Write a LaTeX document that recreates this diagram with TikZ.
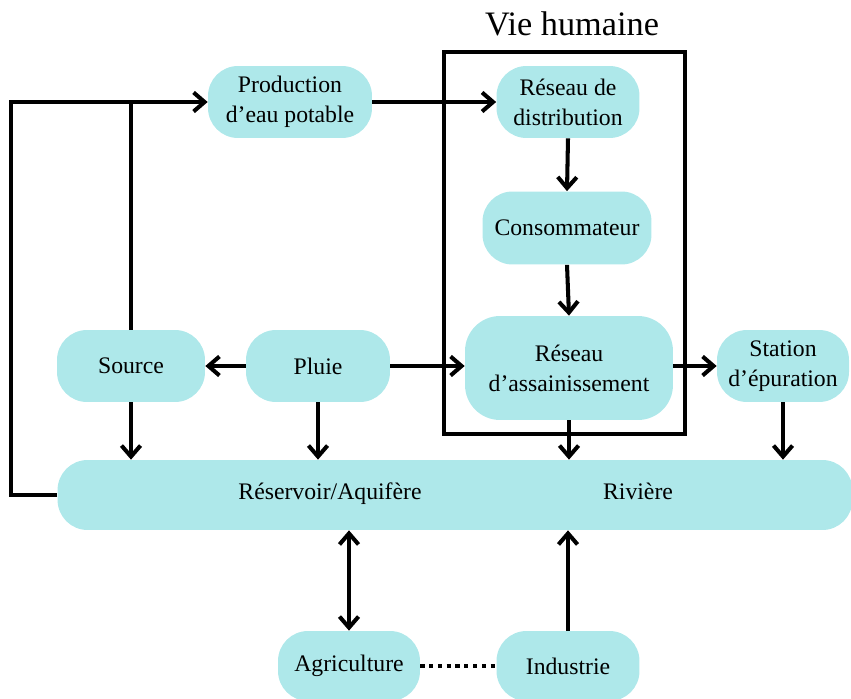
\documentclass[tikz,border=0pt]{standalone}
\usepackage{fontspec}
\setmainfont{Liberation Serif}
\usepackage{tikz}
\usetikzlibrary{arrows.meta,positioning,calc}
\definecolor{aqua}{HTML}{AEE8EA}
\tikzset{
  waterbox/.style={fill=aqua,draw=none,rounded corners=0.6cm,align=center,
    inner sep=2pt,font=\fontsize{13.5}{17}\selectfont},
  flowarrow/.style={-{Straight Barb[length=2.2mm,width=3.8mm]},line width=2.3pt},
  twowayarrow/.style={{Straight Barb[length=2.2mm,width=3.8mm]}-{Straight Barb[length=2.2mm,width=3.8mm]},line width=2.3pt},
  flowline/.style={line width=2.3pt},
  boxlabel/.style={font=\fontsize{13.5}{17}\selectfont,anchor=base}
}

\begin{document}
\begin{tikzpicture}[x=0.02cm,y=-0.02cm]
  \useasboundingbox (0,0) rectangle (851,699);
  % noeuds
  \node[waterbox,minimum width=3.28cm,minimum height=1.44cm] (prod) at (290,102)
    {Production\\d'eau potable};
  \node[waterbox,minimum width=2.86cm,minimum height=1.44cm] (distrib) at (568,102)
    {Réseau de\\distribution};
  \node[waterbox,minimum width=3.38cm,minimum height=1.46cm] (conso) at (567,228)
    {Consommateur};
  \node[waterbox,minimum width=4.16cm,minimum height=2.08cm,rounded corners=0.7cm] (assain) at (569,368)
    {Réseau\\d'assainissement};
  \node[waterbox,minimum width=2.96cm,minimum height=1.44cm] (source) at (131,366)
    {Source};
  \node[waterbox,minimum width=2.88cm,minimum height=1.44cm] (pluie) at (318,366)
    {Pluie};
  \node[waterbox,minimum width=2.64cm,minimum height=1.44cm] (station) at (783,366)
    {Station\\d'épuration};
  \node[waterbox,minimum width=15.9cm,minimum height=1.4cm] (res) at (455,495) {};
  \node[boxlabel] (aquif) at (330,499) {Réservoir/Aquifère};
  \node[boxlabel] (riviere) at (638,499) {Rivière};
  \node[waterbox,minimum width=2.84cm,minimum height=1.4cm] (agri) at (349,666)
    {Agriculture};
  \node[waterbox,minimum width=2.86cm,minimum height=1.4cm] (indus) at (568,666)
    {Industrie};
  % vie humaine
  \draw[flowline] (444,52) rectangle (685,434);
  \node[font=\fontsize{19.5}{22}\selectfont] (vie) at (572,24) {Vie humaine};
  % fleches
  \draw[flowarrow] (prod.east) -- (distrib.west);
  \draw[flowarrow] (distrib.south) -- (conso.north);
  \draw[flowarrow] (conso.south) -- (assain.north);
  \draw[flowarrow] (pluie.west) -- (source.east);
  \draw[flowarrow] (pluie.east) -- (pluie.east -| assain.west);
  \draw[flowarrow] (assain.east |- station.west) -- (station.west);
  \draw[flowarrow] (res.west) -- ++(-46,0) |- (prod.west);
  \draw[flowline] (source.north) -- (source.north |- prod.west);
  \foreach \from in {source,pluie,assain,station}
    \draw[flowarrow] (\from.south) -- (\from.south |- res.north);
  \draw[twowayarrow] (agri.north) -- (agri.north |- res.south);
  \draw[flowarrow] (indus.north) -- (indus.north |- res.south);
  \draw[line width=2.3pt,dash pattern=on 2.4pt off 2.6pt] (agri.east) -- (indus.west);
\end{tikzpicture}
\end{document}
